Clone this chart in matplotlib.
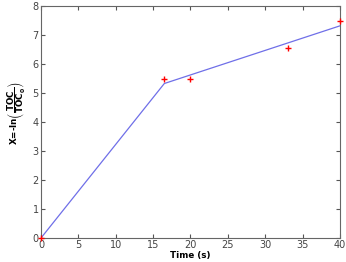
import numpy as np
import matplotlib
matplotlib.use("Agg")
import matplotlib.pyplot as plt

# measured points
t_meas = [0, 16.5, 20, 33, 40]
x_meas = [0, 5.48, 5.49, 6.55, 7.48]

# fitted piecewise line
t_fit = [0, 16.5, 40]
x_fit = [0, 5.33, 7.32]

fig = plt.figure(figsize=(3.46, 2.62), dpi=100)
ax = fig.add_axes([0.1185, 0.0916, 0.864, 0.885])

ax.plot(t_fit, x_fit, color='#6f6fe8', linewidth=0.9)
ax.plot(t_meas, x_meas, '+', color='red', markersize=5, markeredgewidth=1.0,
        clip_on=False, zorder=5)

ax.set_xlim(0, 40)
ax.set_ylim(0, 8)
ax.set_xticks(np.arange(0, 41, 5))
ax.set_yticks(np.arange(0, 9, 1))
ax.tick_params(direction='in', top=True, right=True, labelsize=7, length=3,
               colors='#555555', labelcolor='#444444', pad=1.5)
for s in ax.spines.values():
    s.set_color('#666666')
    s.set_linewidth(0.8)

ax.set_xlabel('Time (s)', fontsize=6.3, fontweight='bold', labelpad=1)
ax.set_ylabel(r'X=-ln$\left(\dfrac{\mathbf{TOC}}{\mathbf{TOC_0}}\right)$',
              fontsize=6.3, fontweight='bold')
ax.yaxis.set_label_coords(-0.045, 0.54)

fig.savefig('out.png', dpi=100)
